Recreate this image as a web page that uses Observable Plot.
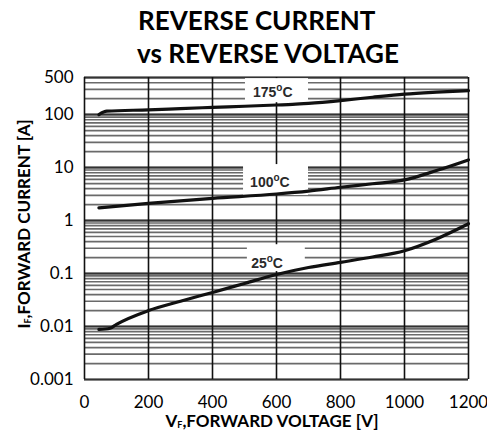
<!DOCTYPE html>
<html><head><meta charset="utf-8">
<script src="https://cdn.jsdelivr.net/npm/d3@7"></script>
<script src="https://cdn.jsdelivr.net/npm/@observablehq/plot@0.6"></script>
<style>body{margin:0;background:#fff;} #chart svg{display:block;}</style>
</head><body><div id="chart"></div>
<script>
// Reverse voltage (V) and reverse current (A)
const v175 = [45, 70, 200, 300, 400, 500, 600, 650, 700, 800, 900, 1000, 1100, 1200];
const i175 = [100, 116, 123, 130, 137, 144, 152, 156, 163, 184, 213, 243, 265, 284];
const v100 = [45, 200, 400, 600, 700, 800, 900, 1000, 1100, 1200];
const i100 = [1.74, 2.12, 2.63, 3.17, 3.6, 4.25, 4.95, 5.86, 8.8, 14];
const v25 = [45, 80, 100, 200, 300, 400, 500, 600, 700, 800, 900, 1000, 1100, 1200];
const i25 = [0.0088, 0.0093, 0.011, 0.020, 0.030, 0.044, 0.065, 0.096, 0.13, 0.163, 0.205, 0.27, 0.45, 0.87];

const seriesNames = ["175", "100", "25"];
const labelV = [590, 581, 572];
const labelI = [260, 5.2, 0.155];
// white label boxes (voltage from/to, current from/to)
const boxV1 = [503, 497, 509];
const boxV2 = [700, 700, 690];
const boxI1 = [168, 2.97, 0.109];
const boxI2 = [478, 11.4, 0.35];

const xTicks = [0, 200, 400, 600, 800, 1000, 1200];
const yTicks = [0.001, 0.01, 0.1, 1, 10, 100];
const yTickLabels = ["0.001", "0.01", "0.1", "1", "10", "100"];
const yTopTick = [500];
const yTopLabel = ["500"];
const decades = [0.001, 0.01, 0.1, 1, 10, 100];
const multiples = [1, 2, 3, 4, 5, 6, 7, 8, 9];

const minorGrid = [];
for (const d of decades) for (const m of multiples) { const v = +(d * m).toPrecision(3); if (v <= 500) minorGrid.push(v); }

const curves = [];
v175.forEach((v, i) => curves.push({s: "175", v, c: i175[i]}));
v100.forEach((v, i) => curves.push({s: "100", v, c: i100[i]}));
v25.forEach((v, i) => curves.push({s: "25", v, c: i25[i]}));
const boxes = seriesNames.map((s, i) => ({s, x1: boxV1[i], x2: boxV2[i], y1: boxI1[i], y2: boxI2[i]}));

const plot = Plot.plot({
  width: 487, height: 441,
  marginLeft: 84, marginRight: 19, marginTop: 77, marginBottom: 62,
  style: {fontFamily: "Lato, sans-serif", fontSize: "17px", color: "#000", background: "#fff"},
  x: {domain: [0, 1200]},
  y: {type: "log", domain: [0.001, 502]},
  marks: [
    Plot.ruleY(minorGrid, {stroke: "#6a6a6a", strokeWidth: 1.7}),
    Plot.ruleY(decades.concat(yTopTick), {stroke: "#333", strokeWidth: 2}),
    Plot.ruleX(xTicks, {stroke: "#111", strokeWidth: 1.6}),
    Plot.rect(boxes, {x1: "x1", x2: "x2", y1: "y1", y2: "y2", fill: "#fff"}),
    Plot.line(curves, {x: "v", y: "c", z: "s", stroke: "#111", strokeWidth: 3.2, curve: "monotone-x"}),
    Plot.axisX({ticks: xTicks, tickSize: 0, tickPadding: 16, label: null, fontSize: 17,
      tickFormat: (d) => String(d)}),
    Plot.axisY({ticks: yTicks, tickSize: 0, tickPadding: 11, label: null, fontSize: 17,
      tickFormat: (d) => yTickLabels[yTicks.indexOf(d)]}),
    Plot.text(yTopTick, {y: (d) => d, text: (d, i) => yTopLabel[i], frameAnchor: "left", dx: -11,
      textAnchor: "end", fontSize: 17, fill: "#000"})
  ]
});
document.getElementById("chart").appendChild(plot);

const svg = d3.select(plot);
const sx = plot.scale("x"), sy = plot.scale("y");
// curve labels
seriesNames.forEach((s, i) => {
  const t = svg.append("text")
    .attr("x", sx.apply(labelV[i])).attr("y", sy.apply(labelI[i]))
    .attr("text-anchor", "middle").attr("dominant-baseline", "central")
    .style("font-family", "'Liberation Sans', Arial, sans-serif").style("font-weight", "bold")
    .style("font-size", "14px").attr("fill", "#2a2a2a");
  t.append("tspan").text(s);
  t.append("tspan").text("o").style("font-size", "10px").attr("dy", "-5");
  t.append("tspan").text("C").attr("dy", "5");
});
// title
const title = svg.append("g").style("font-family", "Lato, sans-serif").style("font-weight", "bold")
  .style("font-size", "26px").attr("fill", "#000").attr("text-anchor", "start");
title.append("text").attr("x", 138).attr("y", 30).attr("text-anchor", "start").text("REVERSE CURRENT");
title.append("text").attr("x", 137).attr("y", 63).attr("text-anchor", "start").text("vs REVERSE VOLTAGE");
// x axis title
const xt = svg.append("text").attr("x", 272).attr("y", 427).attr("text-anchor", "middle")
  .style("font-family", "Lato, sans-serif").style("font-weight", "bold").style("font-size", "17px").attr("fill", "#000");
xt.append("tspan").text("V");
xt.append("tspan").text("F").style("font-size", "9px").attr("dy", "1");
xt.append("tspan").text(",FORWARD VOLTAGE [V]").attr("dy", "-1");
// y axis title
const yt = svg.append("text").attr("transform", "translate(30,224) rotate(-90)").attr("text-anchor", "middle")
  .style("font-family", "Lato, sans-serif").style("font-weight", "bold").style("font-size", "17px").attr("fill", "#000");
yt.append("tspan").text("I");
yt.append("tspan").text("F").style("font-size", "9px").attr("dy", "1");
yt.append("tspan").text(",FORWARD CURRENT [A]").attr("dy", "-1");
</script>
</body></html>
